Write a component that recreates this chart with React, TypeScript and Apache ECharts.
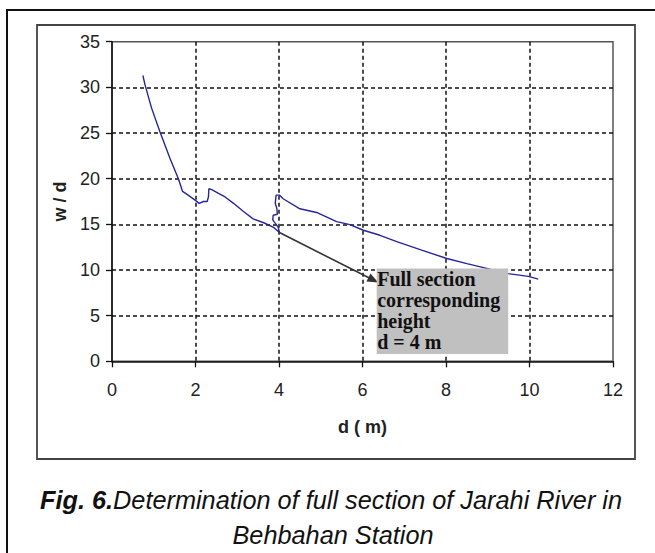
import React, { useEffect, useRef } from "react";
import * as echarts from "echarts";

// d (m) values, in drawing order
const dValues: number[] = [
  0.74, 0.79, 0.95, 1.15, 1.39, 1.59, 1.69, 1.79, 1.99, 2.09, 2.19, 2.28, 2.31,
  2.32, 2.39, 2.55, 2.71, 2.91, 3.15, 3.38, 3.62, 3.86, 4.01,
  3.98, 3.88, 3.85, 3.86, 3.96, 3.95, 3.91, 3.93, 4.01, 4.1, 4.5, 4.9, 5.38,
  5.7, 6.02, 6.42, 6.82, 7.4, 8.02, 8.5, 9.05, 9.49, 9.97, 10.21,
];
// w / d values matching dValues
const wdValues: number[] = [
  31.3, 30.3, 27.7, 25.1, 22.2, 20.0, 18.6, 18.3, 17.65, 17.3, 17.5, 17.5, 18.0,
  18.9, 18.8, 18.4, 18.0, 17.3, 16.4, 15.6, 15.2, 14.7, 14.1,
  14.7, 15.3, 15.5, 16.0, 16.1, 16.7, 17.3, 18.2, 18.2, 17.8, 16.7, 16.3, 15.3,
  14.97, 14.35, 13.8, 13.1, 12.2, 11.26, 10.7, 10.1, 9.6, 9.3, 9.0,
];

const xTicks = { min: 0, max: 12, interval: 2 };
const yTicks = { min: 0, max: 35, interval: 5 };

// annotation (data coordinates)
const arrowFrom: [number, number] = [4.01, 14.1];
const arrowTo: [number, number] = [6.26, 8.9];
const boxTopLeft: [number, number] = [6.34, 10.15];
const boxBottomRight: [number, number] = [9.49, 0.8];
const annotationLines: string[] = [
  "Full section",
  "corresponding",
  "height",
  "d = 4 m",
];

const captionBold = "Fig. 6.";
const captionRest1 = "Determination of full section of Jarahi River in";
const captionLine2 = "Behbahan Station";

const narrow = '"Liberation Sans Narrow", "Arial Narrow", "Liberation Sans", Arial, sans-serif';
const sans = '"Liberation Sans", Arial, sans-serif';

export default function App() {
  const ref = useRef<HTMLDivElement>(null);

  useEffect(() => {
    if (!ref.current) return;
    const chart = echarts.init(ref.current, undefined, { renderer: "svg" });
    const data = dValues.map((d, i) => [d, wdValues[i]]);

    const baseGraphics: any[] = [
      {
        type: "rect",
        shape: { x: 7, y: 10, width: 680, height: 570 },
        style: { fill: "none", stroke: "#111", lineWidth: 2 },
        silent: true,
        z: 0,
      },
      {
        type: "rect",
        shape: { x: 37, y: 25, width: 598, height: 434 },
        style: { fill: "none", stroke: "#444", lineWidth: 1.8 },
        silent: true,
        z: 0,
      },
      {
        type: "text",
        x: 331,
        y: 499.5,
        style: {
          text: `{b|${captionBold}}{n|${captionRest1}}`,
          align: "center",
          verticalAlign: "middle",
          fill: "#111",
          font: `italic 25.3px ${sans}`,
          rich: {
            b: {
              fontWeight: "bold",
              fontStyle: "italic",
              fontSize: 25.3,
              fontFamily: sans,
              fill: "#111",
            },
            n: {
              fontStyle: "italic",
              fontSize: 25.3,
              fontFamily: sans,
              fill: "#111",
            },
          },
        },
        z: 10,
      },
      {
        type: "text",
        x: 333,
        y: 535,
        style: {
          text: captionLine2,
          align: "center",
          verticalAlign: "middle",
          fill: "#111",
          fontStyle: "italic",
          fontSize: 25.3,
          fontFamily: sans,
        },
        z: 10,
      },
    ];

    const gridLine = { color: "#111", type: [4, 3], width: 1.5 };

    const option: any = {
      animation: false,
      backgroundColor: "#fff",
      grid: {
        left: 112,
        top: 41.7,
        width: 501,
        height: 319.6,
        show: true,
        borderColor: "#555",
        borderWidth: 1.5,
        containLabel: false,
      },
      xAxis: {
        type: "value",
        min: xTicks.min,
        max: xTicks.max,
        interval: xTicks.interval,
        name: "d ( m)",
        nameLocation: "middle",
        nameGap: 57,
        nameTextStyle: {
          fontFamily: narrow,
          fontWeight: "bold",
          fontSize: 18,
          color: "#222",
        },
        axisLine: { onZero: false, lineStyle: { color: "#111", width: 1.5 } },
        axisTick: { show: true, inside: false, length: 6, lineStyle: { color: "#111", width: 1.3 } },
        axisLabel: { margin: 20, fontFamily: narrow, fontSize: 18, color: "#222" },
        splitLine: {
          show: true,
          showMinLine: false,
          showMaxLine: false,
          lineStyle: gridLine,
        },
      },
      yAxis: {
        type: "value",
        min: yTicks.min,
        max: yTicks.max,
        interval: yTicks.interval,
        name: "w / d",
        nameLocation: "middle",
        nameRotate: 90,
        nameGap: 38,
        nameTextStyle: {
          fontFamily: narrow,
          fontWeight: "bold",
          fontSize: 18,
          color: "#222",
        },
        axisLine: { onZero: false, lineStyle: { color: "#111", width: 1.5 } },
        axisTick: { show: true, inside: false, length: 6, lineStyle: { color: "#111", width: 1.3 } },
        axisLabel: { margin: 12, fontFamily: narrow, fontSize: 18, color: "#222" },
        splitLine: {
          show: true,
          showMinLine: false,
          showMaxLine: false,
          lineStyle: gridLine,
        },
      },
      series: [
        {
          type: "line",
          data,
          showSymbol: false,
          symbol: "none",
          lineStyle: { color: "#26269a", width: 1.4 },
          z: 3,
          markLine: {
            silent: true,
            symbol: ["none", "triangle"],
            symbolSize: [9, 11],
            label: { show: false },
            lineStyle: { color: "#333", width: 1.6, type: "solid" },
            data: [[{ coord: arrowFrom }, { coord: arrowTo }]],
          },
        },
      ],
      graphic: baseGraphics,
    };

    chart.setOption(option);

    const tl = chart.convertToPixel({ gridIndex: 0 }, boxTopLeft) as number[];
    const br = chart.convertToPixel({ gridIndex: 0 }, boxBottomRight) as number[];
    const annotationGraphics = [
      {
        type: "rect",
        shape: { x: tl[0], y: tl[1], width: br[0] - tl[0], height: br[1] - tl[1] },
        style: { fill: "#c0c0c0", stroke: "none" },
        z: 100,
        silent: true,
      },
      {
        type: "text",
        x: tl[0] + 0.5,
        y: tl[1] + 0.5,
        style: {
          text: annotationLines.join("\n"),
          fill: "#111",
          fontFamily: '"Liberation Serif", "Times New Roman", serif',
          fontWeight: "bold",
          fontSize: 20,
          lineHeight: 20.7,
          align: "left",
          verticalAlign: "top",
        },
        z: 101,
        silent: true,
      },
    ];
    chart.setOption({ graphic: [...baseGraphics, ...annotationGraphics] });

    return () => chart.dispose();
  }, []);

  return (
    <div
      ref={ref}
      style={{ position: "absolute", left: 0, top: 0, width: 655, height: 553 }}
    />
  );
}
